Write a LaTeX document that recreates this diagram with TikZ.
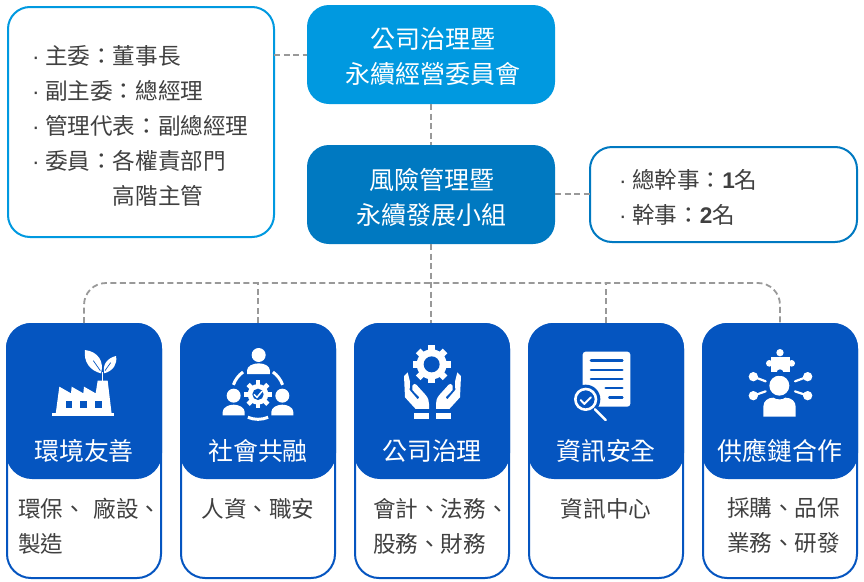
\documentclass[tikz,border=0pt]{standalone}
\usepackage{fontspec}
\setmainfont{Noto Sans CJK TC}
\newfontfamily\latf{Liberation Sans}
\definecolor{cardblue}{HTML}{0555C0}
\definecolor{topblue}{HTML}{0099E0}
\definecolor{midblue}{HTML}{0079C1}
\definecolor{txt}{HTML}{404040}
\definecolor{dashc}{HTML}{999999}
\newcommand{\bul}{\makebox[13pt][l]{\latf ·}}
\newcommand{\gearicon}[5]{%
  \fill[white] (#1,#2) circle (#3);
  \foreach \a in {0,45,...,315} \draw[white,line width=#5] (#1,#2) -- ++(\a:#4);
}
\tikzset{
  every node/.append style={outer sep=0pt},
  solidbox/.style={rounded corners=22pt,minimum width=248pt,minimum height=99pt,anchor=north west,inner sep=0pt},
  solidtxt/.style={text=white,align=center,inner sep=0pt,font=\fontsize{25}{35}\selectfont},
  infobox/.style={draw,line width=2pt,fill=white,rounded corners=22pt,anchor=north west,inner sep=0pt},
  conn/.style={draw=dashc,line width=1.8pt,dash pattern=on 6pt off 3.5pt},
  panel/.style={draw=cardblue,line width=2pt,fill=white,rounded corners=24pt,minimum width=154pt,minimum height=254pt,anchor=north west,inner sep=0pt},
  head/.style={fill=cardblue,rounded corners=26pt,minimum width=156pt,minimum height=156pt,anchor=north west,inner sep=0pt},
  title/.style={text=white,font=\fontsize{24.9}{30}\selectfont,inner sep=0pt,anchor=center},
  body/.style={text=txt,font=\fontsize{22.6}{35}\selectfont,inner sep=0pt,align=left},
  icon/.style={shift={(#1,340)},x=0.3333pt,y=-0.3333pt},
}
\begin{document}
\begin{tikzpicture}[x=1pt,y=-1pt]
\useasboundingbox (0,0) rectangle (864,581);
% upper boxes
\node[solidbox,fill=topblue] (gov) at (307,5) {};
\node[solidbox,fill=midblue] (risk) at (307,145) {};
\node[solidtxt] (govt) at (433,56.5) {公司治理暨\\永續經營委員會};
\node[solidtxt] (riskt) at (431.5,197.5) {風險管理暨\\永續發展小組};
\node[infobox,draw=topblue,minimum width=266pt,minimum height=230pt] (left) at (8,7) {};
\node[infobox,draw=midblue,minimum width=267pt,minimum height=95pt] (right) at (590,147) {};
\node[body,anchor=north west] (lefttxt) at (32,45) {\bul 主委：董事長\\\bul 副主委：總經理\\\bul 管理代表：副總經理\\\bul 委員：各權責部門\\\hspace{13pt}\hspace{3em}高階主管};
\node[body,anchor=north west] (righttxt) at (619,169) {\bul 總幹事：{\latf\bfseries 1}名\\\bul 幹事：{\latf\bfseries 2}名};
% cards
\foreach \n/\x in {1/6,2/180,3/354,4/528,5/702}{
  \node[panel] (p\n) at (\x+1,324) {};
  \node[head] (c\n) at (\x,323) {};
}
\node[title] (t1) at (84,451) {環境友善};
\node[title] (t2) at (258,451) {社會共融};
\node[title] (t3) at (432,451) {公司治理};
\node[title] (t4) at (606,451) {資訊安全};
\node[title] (t5) at (780,451) {供應鏈合作};
\node[body,anchor=north west] (b1) at (18,498) {環保、\hspace{8pt}廠設、\\製造};
\node[body,anchor=north] (b2) at (258,498) {人資、職安};
\node[body,anchor=north west] (b3) at (373,498) {會計、法務、\\股務、財務};
\node[body,anchor=north] (b4) at (606,498) {資訊中心};
\node[body,anchor=north west] (b5) at (727,498) {採購、品保\\業務、研發};
% connectors
\coordinate (bus) at (431,283);
\draw[conn] (left.east |- 0,55) -- (gov.west |- 0,55);
\draw[conn] (gov.south -| bus) -- (risk.north -| bus);
\draw[conn] (risk.east |- 0,194) -- (right.west |- 0,194);
\draw[conn] (risk.south -| bus) -- (c3.north -| bus);
\draw[conn,rounded corners=22pt] (c1.north) |- (bus) -| (c5.north);
\draw[conn] (c2.north) -- (c2.north |- bus);
\draw[conn] (c4.north) -- (c4.north |- bus);
% icon 1: factory
\begin{scope}[icon=45]
  \fill[white] (32,222) -- (43,140) -- (78,160) -- (80,140) -- (115,160) -- (117,140) -- (152,160) -- (158,122) -- (188,122) -- (200,222) -- cycle;
  \fill[white] (22,220) rectangle (208,228);
  \foreach \w in {62,106,150} \fill[cardblue] (\w,184) rectangle (\w+20,203);
  \fill[white] (120,30) .. controls (160,35) and (178,65) .. (168,100) .. controls (135,92) and (115,65) .. cycle;
  \fill[white] (213,48) .. controls (185,55) and (172,75) .. (178,100) .. controls (205,92) and (218,72) .. cycle;
  \draw[white,line width=1.3pt] (172,122) -- (172,95);
  \draw[cardblue,line width=.7pt] (145,62) -- (166,92);
  \draw[cardblue,line width=.7pt] (197,68) -- (180,92);
\end{scope}
% icon 2: people around gear
\begin{scope}[icon=218]
  \fill[white] (122,45) circle (21);
  \fill[white] (87,102) -- (87,92) .. controls (87,78) and (105,70) .. (122,70) .. controls (139,70) and (156,78) .. (156,92) -- (156,102) -- cycle;
  \fill[white] (47,167) circle (21);
  \fill[white] (14,226) -- (14,216) .. controls (14,202) and (32,194) .. (47,194) .. controls (62,194) and (80,202) .. (80,216) -- (80,226) -- cycle;
  \fill[white] (193,167) circle (21);
  \fill[white] (160,226) -- (160,216) .. controls (160,202) and (178,194) .. (193,194) .. controls (208,194) and (226,202) .. (226,216) -- (226,226) -- cycle;
  \foreach \s/\e in {-161/-125,-55/-19,113/67}
    \draw[white,line width=3pt] (120,160) ++(\s:78) arc[start angle=\s,end angle=\e,radius=78];
  \gearicon{120}{163}{31}{42}{4.5pt}
  \fill[cardblue] (120,163) circle (17);
  \draw[white,line width=1.5pt] (108,163) -- (117,172) -- (133,153);
\end{scope}
% icon 3: hands and gear
\begin{scope}[icon=395]
  \gearicon{110}{73}{45}{57}{6.5pt}
  \fill[cardblue] (110,73) circle (24);
  \foreach \sc/\sh in {1/0,-1/225}{
    \begin{scope}[shift={(\sh,0)},xscale=\sc]
      \fill[white] (27,108) -- (38,97) -- (45,125) -- (44,150) -- (68,178) -- (73,172) -- (52,150) -- (52,137) .. controls (54,131) and (60,130) .. (64,134) -- (92,165) .. controls (100,175) and (102,182) .. (102,192) -- (102,207) -- (62,207) -- (30,172) -- cycle;
      \fill[white] (58,218) rectangle (102,237);
    \end{scope}
  }
\end{scope}
% icon 4: document and magnifier
\begin{scope}[icon=565]
  \fill[white,rounded corners=3pt] (53,35) rectangle (196,200);
  \foreach \y/\a in {62/78,90/78,117/78,144/122,172/133}
    \draw[cardblue,line width=2.6pt,line cap=round] (\a,\y) -- (172,\y);
  \fill[cardblue] (62,178) circle (44);
  \draw[white,line width=2.6pt] (62,178) circle (31);
  \draw[white,line width=1.9pt,line cap=round,line join=round] (47,180) -- (58,192) -- (78,172);
  \draw[white,line width=2.4pt,line cap=round] (90,208) -- (122,240);
\end{scope}
% icon 5: person with links and puzzle
\begin{scope}[icon=740]
  \fill[white] (118,137) circle (30);
  \fill[white] (70,230) -- (70,200) .. controls (70,182) and (85,173) .. (100,173) .. controls (110,180) and (128,180) .. (136,173) .. controls (155,173) and (167,185) .. (167,200) -- (167,230) -- cycle;
  \foreach \a/\b/\c/\d in {40/110/77/124,203/110/165/124,40/167/77/154,203/167/165/154}{
    \fill[white] (\a,\b) circle (14);
    \draw[white,line width=2.2pt,line cap=round] (\a,\b) -- (\c,\d);
  }
  \fill[white] (92,50) rectangle (150,95);
  \fill[white] (120,38) circle (11);
  \fill[white] (88,70) circle (10);
  \fill[white] (155,70) circle (10);
  \fill[cardblue] (120,98) circle (10);
\end{scope}
\end{tikzpicture}
\end{document}
